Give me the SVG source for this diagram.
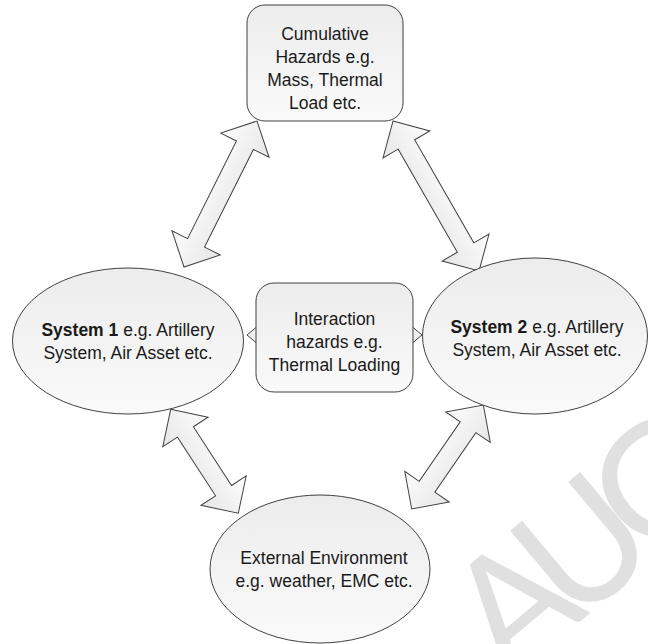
<svg xmlns="http://www.w3.org/2000/svg" width="648" height="644" viewBox="0 0 648 644">
  <defs>
    <linearGradient id="nodeFill" x1="0" y1="0" x2="0" y2="1">
      <stop offset="0" stop-color="#ececec"/>
      <stop offset="1" stop-color="#fafafa"/>
    </linearGradient>
    <linearGradient id="arrowFill" x1="0" y1="0" x2="0" y2="1">
      <stop offset="0" stop-color="#fdfdfd"/>
      <stop offset="1" stop-color="#e6e6e6"/>
    </linearGradient>
    <style>
      .node { fill: url(#nodeFill); stroke: #404040; stroke-width: 1; }
      .arrow { fill: url(#arrowFill); stroke: #404040; stroke-width: 1; stroke-linejoin: miter; }
      .label { font-family: "Liberation Sans", Arial, sans-serif; font-size: 17.5px; fill: #1a1a1a; text-anchor: middle; }
      .b { font-weight: bold; }
      .mark { font-family: Lato, "Liberation Sans", sans-serif; font-size: 160px; fill: #e0e0e0; letter-spacing: -20px; }
    </style>
  </defs>

  <rect width="648" height="644" fill="#ffffff"/>

  <!-- background watermark -->
  <text class="mark" transform="translate(508,682) rotate(-40)">AUG</text>

  <!-- double-headed block connectors -->
  <g id="connectors">
    <!-- System 1 <-> System 2 (mostly hidden behind the interaction box) -->
    <path class="arrow" transform="translate(247,335)" d="M0,0 L24,-20 L24,-8 L151,-8 L151,-20 L175,0 L151,20 L151,8 L24,8 L24,20 Z"/>
    <!-- System 1 <-> Cumulative hazards -->
    <path class="arrow" transform="translate(184,267) rotate(-63.43)" d="M0,0 L27,-27 L27,-9.5 L136.2,-9.5 L136.2,-27 L163.2,0 L136.2,27 L136.2,9.5 L27,9.5 L27,27 Z"/>
    <!-- Cumulative hazards <-> System 2 -->
    <path class="arrow" transform="translate(393,121) rotate(60.17)" d="M0,0 L27,-27 L27,-9.5 L145.9,-9.5 L145.9,-27 L172.9,0 L145.9,27 L145.9,9.5 L27,9.5 L27,27 Z"/>
    <!-- System 1 <-> External environment -->
    <path class="arrow" transform="translate(170.7,409.3) rotate(56.97)" d="M0,0 L27,-27 L27,-9.5 L97,-9.5 L97,-27 L124,0 L97,27 L97,9.5 L27,9.5 L27,27 Z"/>
    <!-- External environment <-> System 2 -->
    <path class="arrow" transform="translate(411.7,509) rotate(-55.45)" d="M0,0 L27,-27 L27,-9.5 L99.3,-9.5 L99.3,-27 L126.3,0 L99.3,27 L99.3,9.5 L27,9.5 L27,27 Z"/>
  </g>

  <g id="cumulative-hazards">
    <rect class="node" x="247" y="5" width="156" height="116" rx="18" ry="18"/>
    <text class="label" x="325" y="40">Cumulative</text>
    <text class="label" x="325" y="63">Hazards e.g.</text>
    <text class="label" x="325" y="86">Mass, Thermal</text>
    <text class="label" x="325" y="109">Load etc.</text>
  </g>

  <g id="system-1">
    <ellipse class="node" cx="128" cy="341" rx="115.5" ry="73"/>
    <text class="label" x="128" y="336"><tspan class="b">System 1</tspan> e.g. Artillery</text>
    <text class="label" x="128" y="359">System, Air Asset etc.</text>
  </g>

  <g id="interaction-hazards">
    <rect class="node" x="256" y="283" width="157" height="109" rx="18" ry="18"/>
    <text class="label" x="334.5" y="325">Interaction</text>
    <text class="label" x="334.5" y="348">hazards e.g.</text>
    <text class="label" x="334.5" y="371">Thermal Loading</text>
  </g>

  <g id="system-2">
    <ellipse class="node" cx="535" cy="336" rx="112.5" ry="78"/>
    <text class="label" x="537" y="333"><tspan class="b">System 2</tspan> e.g. Artillery</text>
    <text class="label" x="537" y="356">System, Air Asset etc.</text>
  </g>

  <g id="external-environment">
    <ellipse class="node" cx="320" cy="569" rx="110" ry="74"/>
    <text class="label" x="324" y="564">External Environment</text>
    <text class="label" x="324" y="587">e.g. weather, EMC etc.</text>
  </g>
</svg>
